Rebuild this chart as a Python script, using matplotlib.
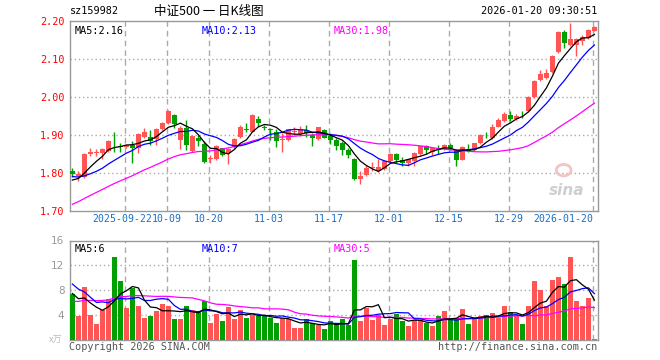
import numpy as np
import pandas as pd
import matplotlib
matplotlib.use("Agg")
import matplotlib.pyplot as plt
import matplotlib.transforms as mtransforms
from matplotlib.patches import Ellipse

plt.rcParams['font.family'] = ['DejaVu Sans Mono', 'Noto Sans CJK SC']

# daily OHLC, 2025-09-09 .. 2026-01-20 (88 trading days)
opens = [1.805, 1.793, 1.790, 1.849, 1.853, 1.852, 1.859, 1.880, 1.872, 1.868,
         1.874, 1.865, 1.896, 1.896, 1.889, 1.915, 1.931, 1.953, 1.887, 1.918,
         1.859, 1.893, 1.877, 1.838, 1.837, 1.865, 1.852, 1.868, 1.894, 1.916,
         1.909, 1.942, 1.922, 1.915, 1.907, 1.886, 1.887, 1.908, 1.903, 1.912,
         1.900, 1.889, 1.914, 1.897, 1.887, 1.880, 1.861, 1.837, 1.785, 1.795,
         1.814, 1.804, 1.811, 1.831, 1.850, 1.834, 1.826, 1.831, 1.850, 1.870,
         1.855, 1.862, 1.863, 1.873, 1.860, 1.835, 1.861, 1.860, 1.878, 1.901,
         1.893, 1.922, 1.936, 1.953, 1.942, 1.955, 1.962, 2.001, 2.045, 2.049,
         2.065, 2.119, 2.172, 2.138, 2.138, 2.147, 2.156, 2.175]
highs = [1.812, 1.806, 1.852, 1.865, 1.863, 1.865, 1.887, 1.907, 1.878, 1.876,
         1.883, 1.905, 1.918, 1.914, 1.918, 1.933, 1.967, 1.955, 1.924, 1.940,
         1.900, 1.900, 1.883, 1.848, 1.874, 1.867, 1.865, 1.892, 1.927, 1.931,
         1.955, 1.949, 1.927, 1.918, 1.915, 1.905, 1.917, 1.920, 1.925, 1.927,
         1.905, 1.922, 1.915, 1.905, 1.892, 1.883, 1.865, 1.839, 1.804, 1.822,
         1.829, 1.838, 1.834, 1.852, 1.852, 1.842, 1.838, 1.855, 1.872, 1.875,
         1.868, 1.873, 1.876, 1.878, 1.862, 1.871, 1.876, 1.880, 1.903, 1.909,
         1.929, 1.944, 1.960, 1.962, 1.955, 1.962, 2.003, 2.045, 2.071, 2.075,
         2.111, 2.174, 2.176, 2.196, 2.155, 2.162, 2.179, 2.187]
lows = [1.789, 1.780, 1.788, 1.845, 1.846, 1.836, 1.856, 1.854, 1.854, 1.866,
        1.827, 1.852, 1.892, 1.874, 1.874, 1.912, 1.929, 1.918, 1.863, 1.861,
        1.856, 1.871, 1.826, 1.827, 1.834, 1.845, 1.824, 1.866, 1.892, 1.909,
        1.907, 1.922, 1.912, 1.887, 1.868, 1.855, 1.885, 1.900, 1.897, 1.896,
        1.871, 1.887, 1.892, 1.877, 1.860, 1.847, 1.840, 1.781, 1.772, 1.793,
        1.804, 1.802, 1.809, 1.829, 1.826, 1.818, 1.818, 1.818, 1.848, 1.851,
        1.848, 1.851, 1.860, 1.860, 1.819, 1.833, 1.856, 1.858, 1.876, 1.891,
        1.890, 1.920, 1.934, 1.937, 1.939, 1.946, 1.960, 1.998, 2.043, 2.047,
        2.062, 2.117, 2.128, 2.134, 2.107, 2.137, 2.152, 2.173]
closes = [1.797, 1.797, 1.850, 1.856, 1.854, 1.862, 1.885, 1.878, 1.869, 1.874,
          1.867, 1.902, 1.909, 1.885, 1.915, 1.931, 1.962, 1.930, 1.918, 1.874,
          1.898, 1.883, 1.830, 1.840, 1.870, 1.848, 1.863, 1.889, 1.922, 1.914,
          1.952, 1.931, 1.919, 1.913, 1.885, 1.888, 1.915, 1.910, 1.912, 1.905,
          1.893, 1.920, 1.893, 1.888, 1.870, 1.861, 1.848, 1.784, 1.793, 1.813,
          1.816, 1.815, 1.832, 1.850, 1.835, 1.827, 1.836, 1.853, 1.870, 1.861,
          1.866, 1.860, 1.874, 1.865, 1.835, 1.869, 1.859, 1.878, 1.900, 1.899,
          1.922, 1.940, 1.955, 1.943, 1.951, 1.954, 2.001, 2.042, 2.060, 2.062,
          2.109, 2.172, 2.141, 2.153, 2.152, 2.158, 2.176, 2.184]
# volume in 万
volumes = [7.4, 3.8, 8.6, 4.0, 2.6, 4.9, 6.6, 13.4, 9.5, 5.2,
           8.3, 5.5, 3.6, 3.9, 4.7, 5.8, 5.5, 3.4, 3.4, 5.5,
           4.9, 4.7, 6.3, 2.8, 4.2, 3.1, 5.3, 3.4, 4.8, 3.6,
           4.0, 3.8, 3.8, 3.6, 2.8, 3.6, 3.3, 2.0, 2.0, 3.4,
           2.7, 2.4, 1.7, 3.1, 2.5, 3.4, 2.4, 12.8, 3.1, 5.2,
           3.2, 4.1, 2.4, 3.4, 4.2, 3.0, 2.2, 3.2, 3.2, 2.8,
           2.3, 3.9, 4.7, 3.3, 3.3, 5.0, 2.6, 3.4, 3.9, 4.1,
           4.3, 3.6, 5.4, 4.5, 4.0, 2.6, 5.5, 9.5, 8.1, 5.5,
           9.7, 10.2, 9.0, 13.3, 6.3, 5.5, 6.8, 0.15]
# earlier days (off chart), estimated from where the MA lines start
close_before = [1.59, 1.60, 1.61, 1.62, 1.63, 1.64, 1.65, 1.66, 1.675,
                1.66, 1.67, 1.68, 1.69, 1.70, 1.72, 1.72,
                1.75, 1.77, 1.79, 1.80,
                1.81, 1.82, 1.80, 1.79, 1.78, 1.775, 1.78, 1.775, 1.78]
vol_before = [3.5, 4.0, 3.8, 3.6, 4.2, 3.9, 3.7, 4.0, 3.9,
              4.5, 5.0, 4.8, 5.5, 6.0, 5.2, 5.8, 6.2, 5.9, 6.5, 6.0,
              12.0, 13.0, 12.6, 11.0, 4.0, 8.0, 8.0, 8.0, 6.0]

tick_idx = [9, 16, 23, 33, 43, 53, 63, 73, 87]
tick_labels = ["2025-09-22", "10-09", "10-20", "11-03", "11-17",
               "12-01", "12-15", "12-29", "2026-01-20"]

RED = '#ff5555'
GREEN = '#00a000'
GRID = '#aaaaaa'
FRAME = '#999999'

n = len(closes)
x = np.arange(n)
o = np.array(opens); h = np.array(highs); l = np.array(lows); c = np.array(closes)
v = np.array(volumes)
up = c >= o
colors = [RED if u else GREEN for u in up]

cs = pd.Series(close_before + closes)
vs = pd.Series(vol_before + volumes)
k = len(close_before)
ma = {p: cs.rolling(p).mean().values[k:] for p in (5, 10, 30)}
vma = {p: vs.rolling(p).mean().values[k:] for p in (5, 10, 30)}
ma_colors = {5: 'black', 10: '#0000ff', 30: '#ff00ff'}

fig = plt.figure(figsize=(6.6, 3.6), dpi=100)
ax = fig.add_axes([70/660, 1-211/360, 528/660, 190/360])
axv = fig.add_axes([70/660, 1-340/360, 528/660, 99.5/360])

for a in (ax, axv):
    a.set_xlim(-0.4, n - 0.4)
    for s in a.spines.values():
        s.set_color(FRAME)
        s.set_linewidth(1)
    a.tick_params(length=0)
    a.set_xticks([])
    for t in tick_idx:
        a.axvline(t - 0.3, color=GRID, ls=(0, (4, 3)), lw=1, zorder=0)

# price panel
ax.set_ylim(1.70, 2.20)
for g in [1.8, 1.9, 2.0, 2.1]:
    ax.axhline(g, color=GRID, ls=(0, (1, 2)), lw=1, zorder=0)
ax.set_yticks([1.7, 1.8, 1.9, 2.0, 2.1, 2.2])
ax.set_yticklabels(["%.2f" % t for t in [1.7, 1.8, 1.9, 2.0, 2.1, 2.2]])
ax.tick_params(axis='y', labelcolor='red', labelsize=7.3, pad=4)

ax.vlines(x, l, h, colors=colors, lw=1, zorder=2)
body = np.maximum(np.abs(c - o), 0.0022)
ax.bar(x, body, bottom=np.minimum(o, c), width=0.82, color=colors, lw=0, zorder=3)
for p in (30, 10, 5):
    ax.plot(x, ma[p], color=ma_colors[p], lw=0.9, zorder=4)

ax.text(0.008, 0.975, "MA5:2.16", transform=ax.transAxes, color='black',
        fontsize=7.3, va='top', ha='left')
ax.text(0.25, 0.975, "MA10:2.13", transform=ax.transAxes, color='#0000ff',
        fontsize=7.3, va='top', ha='left')
ax.text(0.4985, 0.975, "MA30:1.98", transform=ax.transAxes, color='#ff00ff',
        fontsize=7.3, va='top', ha='left')
# sina watermark
ax.add_patch(Ellipse((0.935, 0.215), 0.028, 0.06, transform=ax.transAxes,
                     facecolor='none', edgecolor='#f2c4c4', lw=2, zorder=1))
ax.text(0.94, 0.085, "sina", transform=ax.transAxes, color='#cfcfcf',
        fontsize=11, fontweight='bold', style='italic', ha='center',
        family='DejaVu Sans', zorder=1)

trans = mtransforms.blended_transform_factory(ax.transData, ax.transAxes)
for t, lab in zip(tick_idx, tick_labels):
    if t == tick_idx[-1]:
        ha, dx = 'right', 0.1
    elif t == tick_idx[0]:
        ha, dx = 'center', -0.35
    else:
        ha, dx = 'center', 0.1
    ax.text(t - 0.3 + dx, -0.018, lab, transform=trans,
            color='#1a6fc4', fontsize=7.1, ha=ha, va='top')

# volume panel
axv.set_ylim(0, 16)
for g in [4, 8, 12]:
    axv.axhline(g, color=GRID, ls=(0, (1, 2)), lw=1, zorder=0)
axv.set_yticks([4, 8, 12, 16])
axv.set_yticklabels(["4", "8", "12", "16"], family='DejaVu Sans')
axv.tick_params(axis='y', labelcolor='#999999', labelsize=7.5, pad=4)
axv.bar(x, v, width=0.85, color=colors, lw=0, zorder=3)
for p in (30, 10, 5):
    axv.plot(x, vma[p], color=ma_colors[p], lw=0.9, zorder=4)

axv.text(0.008, 0.965, "MA5:6", transform=axv.transAxes, color='black',
         fontsize=7.3, va='top', ha='left')
axv.text(0.25, 0.965, "MA10:7", transform=axv.transAxes, color='#0000ff',
         fontsize=7.3, va='top', ha='left')
axv.text(0.4985, 0.965, "MA30:5", transform=axv.transAxes, color='#ff00ff',
         fontsize=7.3, va='top', ha='left')

# header / footer text
fig.text(70/660, 1-11/360, "sz159982", fontsize=7.3, va='center', ha='left')
fig.text(209/660, 1-11/360, "中证500 一 日K线图", fontsize=9, va='center', ha='center',
         family=['Noto Sans CJK SC', 'DejaVu Sans'])
fig.text(597/660, 1-11/360, "2026-01-20 09:30:51", fontsize=7.3, va='center', ha='right')
fig.text(69/660, 1-347/360, "Copyright 2026 SINA.COM", fontsize=7.3, color='#555555',
         va='center', ha='left')
fig.text(597/660, 1-347/360, "http://finance.sina.com.cn", fontsize=7.3, color='#555555',
         va='center', ha='right')
fig.text(56/660, 1-340/360, "x万", fontsize=6.5, color='#bbbbbb', va='center', ha='center',
         family=['Noto Sans CJK SC', 'DejaVu Sans'])

fig.savefig("out.png", dpi=100)
